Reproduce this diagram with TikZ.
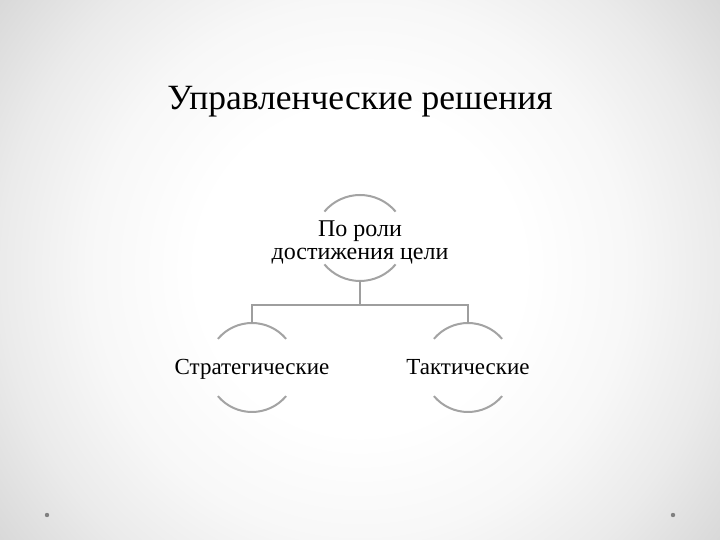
\documentclass[tikz,border=0pt]{standalone}
\usepackage{fontspec}
\setmainfont{Liberation Serif}
\usetikzlibrary{positioning}

\pgfdeclareradialshading{slidebg}{\pgfpoint{0bp}{0bp}}{%
  color(0bp)=(white); color(9bp)=(white); color(15bp)=(black!3); color(20bp)=(black!8); color(25bp)=(black!15); color(50bp)=(black!15)}

\tikzset{
  role/.style={inner sep=0pt, align=center, text height=18pt, text depth=4pt,
               font=\fontsize{23}{23}\selectfont},
  arcs/.style={draw=black!36, line width=2pt},
  branch/.style={draw=black!38, line width=1.1pt},
}

\begin{document}
\begin{tikzpicture}[x=1pt, y=1pt]
    % Slide background
    \begin{scope}
        \clip (0,0) rectangle (720,540);
        \shade[shading=slidebg] (-90,-180) rectangle (810,720);
    \end{scope}
    \useasboundingbox (0,0) rectangle (720,540);
    \fill[black!50] (47,25) circle (2.2pt);
    \fill[black!50] (673,25) circle (2.2pt);

    % Title
    \node (title) at (360,438) {\fontsize{35.5}{40}\selectfont Управленческие решения};

    % Nodes {root, strat, tact}
    \node [role, text height=, text depth=, font=\fontsize{24}{23}\selectfont]
                    (root)  at (360,298)       {По роли\\достижения цели};
    \node [role]    (strat) at (252,172.5)     {Стратегические};
    \node [role]    (tact)  at (468,172.5)     {Тактические};

    % Top and bottom of the rings
    \coordinate (root-top)  at ([yshift=47pt]  root.center);
    \coordinate (root-bot)  at ([yshift=-39pt] root.center);
    \foreach \n in {strat, tact} {
        \coordinate (\n-top) at ([yshift=44.5pt]  \n.center);
        \coordinate (\n-bot) at ([yshift=-44.5pt] \n.center);
    }

    % Arcs around nodes
    \foreach \n/\r in {root/46.5, strat/44.5, tact/44.5} {
        \draw [arcs] (\n-top) arc [start angle=90,  end angle=140, radius=\r pt]
                     (\n-top) arc [start angle=90,  end angle=40,  radius=\r pt];
        \draw [arcs] (\n-bot) arc [start angle=270, end angle=220, radius=\r pt]
                     (\n-bot) arc [start angle=270, end angle=320, radius=\r pt];
    }

    % Paths
    \coordinate (split) at ([yshift=-24pt] root-bot);
    \draw [branch] (root-bot) -- (split);
    \draw [branch] (split) -| (strat-top);
    \draw [branch] (split) -| (tact-top);
\end{tikzpicture}
\end{document}
